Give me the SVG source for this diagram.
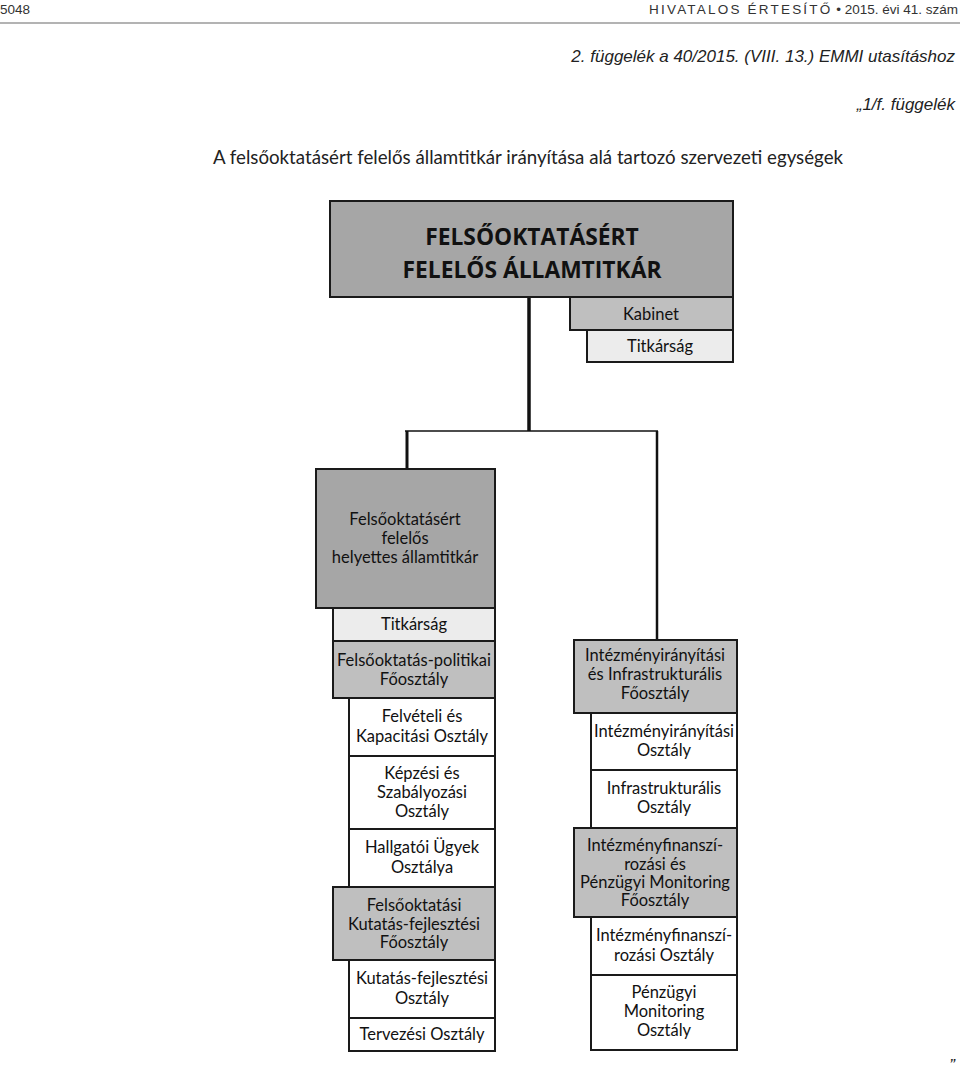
<svg xmlns="http://www.w3.org/2000/svg" width="960" height="1074" viewBox="0 0 960 1074">
<style>
.hdr{font-family:"Liberation Sans",Arial,sans-serif;font-size:13.5px;fill:#333}
.it{font-family:"Liberation Sans",Arial,sans-serif;font-style:italic;font-size:17px;fill:#222}
.ttl{font-family:Lato,"Liberation Sans",sans-serif;font-size:18.7px;fill:#222}
.bx{stroke:#1a1a1a;stroke-width:2}
.dk{fill:#a6a6a6}
.md{fill:#bfbfbf}
.lt{fill:#ececec}
.wh{fill:#ffffff}
.t{font-family:Lato,"Liberation Sans",sans-serif;font-size:16.5px;fill:#111;text-anchor:middle}
.big{font-family:"Open Sans","Liberation Sans",sans-serif;font-weight:bold;font-size:22.8px;fill:#111;text-anchor:middle}
.ln{stroke:#111;fill:none}
</style>
<rect width="960" height="1074" fill="#ffffff"/>
<g id="header">
<text class="hdr" x="0" y="14">5048</text>
<text class="hdr" x="958" y="14" text-anchor="end"><tspan letter-spacing="2.2">HIVATALOS ÉRTESÍTŐ</tspan> • 2015. évi 41. szám</text>
<line x1="0" y1="23" x2="960" y2="23" stroke="#9a9a9a" stroke-width="1.5"/>
<text class="it" x="955" y="62" text-anchor="end">2. függelék a 40/2015. (VIII. 13.) EMMI utasításhoz</text>
<text class="it" x="955" y="110" text-anchor="end">„1/f. függelék</text>
<text class="ttl" x="528" y="164" text-anchor="middle">A felsőoktatásért felelős államtitkár irányítása alá tartozó szervezeti egységek</text>
</g>
<g id="connectors">
<line class="ln" x1="529" y1="297" x2="529" y2="431" stroke-width="3.5"/>
<line class="ln" x1="405" y1="431" x2="658" y2="431" stroke-width="1.5"/>
<line class="ln" x1="407" y1="431" x2="407" y2="469" stroke-width="3"/>
<line class="ln" x1="657" y1="431" x2="657" y2="640" stroke-width="2.5"/>
</g>
<g id="top">
<rect class="bx dk" x="330" y="201" width="403" height="96" stroke-width="2.5"/>
<text class="big" x="532" y="245">FELSŐOKTATÁSÉRT</text>
<text class="big" x="532" y="278">FELELŐS ÁLLAMTITKÁR</text>
</g>
<g id="kabinet">
<rect class="bx md" x="570" y="297" width="163" height="33" stroke-width="1.5"/>
<text class="t" x="651" y="320">Kabinet</text>
</g>
<g id="titkarsag1">
<rect class="bx lt" x="587" y="330" width="146" height="32" stroke-width="1.5"/>
<text class="t" x="660" y="352">Titkárság</text>
</g>
<g id="deputy">
<rect class="bx dk" x="316" y="469" width="179" height="139"/>
<text class="t" x="405" y="525">Felsőoktatásért</text>
<text class="t" x="405" y="544">felelős</text>
<text class="t" x="405" y="563">helyettes államtitkár</text>
</g>
<g id="titkarsag2">
<rect class="bx lt" x="333" y="608" width="162" height="33"/>
<text class="t" x="414" y="630">Titkárság</text>
</g>
<g id="fopol">
<rect class="bx md" x="333" y="641" width="162" height="57"/>
<text class="t" x="414" y="666">Felsőoktatás-politikai</text>
<text class="t" x="414" y="685">Főosztály</text>
</g>
<g id="felveteli">
<rect class="bx wh" x="349" y="698" width="146" height="58"/>
<text class="t" x="422" y="722">Felvételi és</text>
<text class="t" x="422" y="742">Kapacitási Osztály</text>
</g>
<g id="kepzesi">
<rect class="bx wh" x="349" y="756" width="146" height="73"/>
<text class="t" x="422" y="779">Képzési és</text>
<text class="t" x="422" y="798">Szabályozási</text>
<text class="t" x="422" y="817">Osztály</text>
</g>
<g id="hallgatoi">
<rect class="bx wh" x="349" y="829" width="146" height="58"/>
<text class="t" x="422" y="853">Hallgatói Ügyek</text>
<text class="t" x="422" y="873">Osztálya</text>
</g>
<g id="fokutatas">
<rect class="bx md" x="333" y="887" width="162" height="73"/>
<text class="t" x="414" y="911">Felsőoktatási</text>
<text class="t" x="414" y="930">Kutatás-fejlesztési</text>
<text class="t" x="414" y="948">Főosztály</text>
</g>
<g id="kutatas">
<rect class="bx wh" x="349" y="960" width="146" height="58"/>
<text class="t" x="422" y="984">Kutatás-fejlesztési</text>
<text class="t" x="422" y="1004">Osztály</text>
</g>
<g id="tervezesi">
<rect class="bx wh" x="349" y="1018" width="146" height="33"/>
<text class="t" x="422" y="1040">Tervezési Osztály</text>
</g>
<g id="foinfra">
<rect class="bx md" x="574" y="640" width="163" height="73"/>
<text class="t" x="655" y="661">Intézményirányítási</text>
<text class="t" x="655" y="680">és Infrastrukturális</text>
<text class="t" x="655" y="699">Főosztály</text>
</g>
<g id="intirany">
<rect class="bx wh" x="591" y="713" width="146" height="57"/>
<text class="t" x="664" y="737">Intézményirányítási</text>
<text class="t" x="664" y="756">Osztály</text>
</g>
<g id="infra">
<rect class="bx wh" x="591" y="770" width="146" height="58"/>
<text class="t" x="664" y="794">Infrastrukturális</text>
<text class="t" x="664" y="813">Osztály</text>
</g>
<g id="fofin">
<rect class="bx md" x="574" y="828" width="163" height="89"/>
<text class="t" x="655" y="851">Intézményfinanszí-</text>
<text class="t" x="655" y="870">rozási és</text>
<text class="t" x="655" y="888">Pénzügyi Monitoring</text>
<text class="t" x="655" y="906">Főosztály</text>
</g>
<g id="intfin">
<rect class="bx wh" x="591" y="917" width="146" height="58"/>
<text class="t" x="664" y="941">Intézményfinanszí-</text>
<text class="t" x="664" y="961">rozási Osztály</text>
</g>
<g id="penzugyi">
<rect class="bx wh" x="591" y="975" width="146" height="75"/>
<text class="t" x="664" y="998">Pénzügyi</text>
<text class="t" x="664" y="1017">Monitoring</text>
<text class="t" x="664" y="1036">Osztály</text>
</g>
<g id="footer">
<text class="it" x="955" y="1071" text-anchor="end" font-size="15">”</text>
</g>
</svg>
